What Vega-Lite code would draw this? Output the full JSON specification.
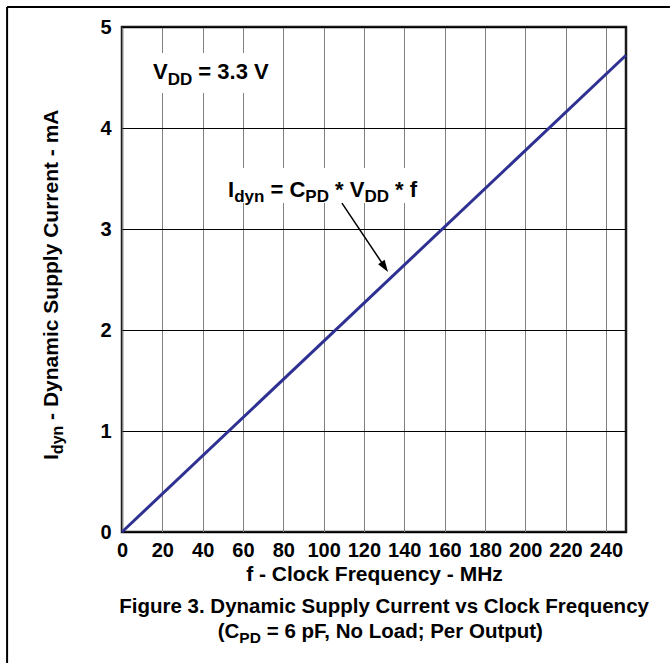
{
  "$schema": "https://vega.github.io/schema/vega-lite/v6.json",
  "width": 504,
  "height": 505,
  "autosize": {"type": "none"},
  "padding": {"left": 122, "top": 27, "right": 44, "bottom": 131},
  "background": "white",
  "config": {
    "font": "Liberation Sans",
    "view": {"stroke": "#1a1a1a", "strokeWidth": 2.5},
    "text": {"font": "Liberation Sans", "fontWeight": "bold", "color": "black", "align": "left", "baseline": "alphabetic"},
    "axisX": {
      "grid": true, "gridColor": "#808080", "gridWidth": 1,
      "ticks": false, "domain": false,
      "labelFontSize": 20, "labelFontWeight": "bold", "labelColor": "black",
      "labelPadding": 8, "labelFlush": false, "labelOverlap": false,
      "titleFontSize": 21, "titleFontWeight": "bold", "titleColor": "black",
      "titleY": 48, "titleBaseline": "alphabetic"
    },
    "axisY": {
      "grid": true, "gridColor": "#000000", "gridWidth": 1,
      "ticks": false, "domain": false,
      "labelFontSize": 20, "labelFontWeight": "bold", "labelColor": "black",
      "labelPadding": 11, "labelFlush": false, "labelOverlap": false
    }
  },
  "layer": [
    {
      "data": {"values": [{"f": 0, "I": 0}, {"f": 250, "I": 4.72}]},
      "mark": {"type": "line", "color": "#2e3192", "strokeWidth": 3},
      "encoding": {
        "x": {"field": "f", "type": "quantitative", "scale": {"domain": [0, 250], "nice": false, "zero": false},
              "axis": {"title": "f - Clock Frequency - MHz", "format": "d", "values": [0, 20, 40, 60, 80, 100, 120, 140, 160, 180, 200, 220, 240]}},
        "y": {"field": "I", "type": "quantitative", "scale": {"domain": [0, 5], "nice": false, "zero": false},
              "axis": {"title": null, "format": "d", "values": [0, 1, 2, 3, 4, 5]}}
      }
    },
    {
      "data": {"values": [{}]},
      "mark": {"type": "rule", "color": "black", "strokeWidth": 2},
      "encoding": {
        "x": {"datum": -57.0, "type": "quantitative"},
        "y": {"datum": 5.198, "type": "quantitative"},
        "y2": {"datum": -1.297}
      }
    },
    {
      "data": {"values": [{}]},
      "mark": {"type": "rule", "color": "black", "strokeWidth": 2},
      "encoding": {
        "x": {"datum": -57.0, "type": "quantitative"},
        "x2": {"datum": 271.8},
        "y": {"datum": 5.198, "type": "quantitative"}
      }
    },
    {
      "data": {"values": [{}]},
      "mark": {"type": "rect", "color": "white"},
      "encoding": {
        "x": {"datum": 13.9, "type": "quantitative"},
        "x2": {"datum": 75.9},
        "y": {"datum": 4.743, "type": "quantitative"},
        "y2": {"datum": 4.347}
      }
    },
    {
      "data": {"values": [{}]},
      "mark": {"type": "rect", "color": "white"},
      "encoding": {
        "x": {"datum": 48.6, "type": "quantitative"},
        "x2": {"datum": 150.3},
        "y": {"datum": 3.604, "type": "quantitative"},
        "y2": {"datum": 3.257}
      }
    },
    {
      "data": {"values": [{}]},
      "mark": {"type": "rule", "color": "black", "strokeWidth": 1.5},
      "encoding": {
        "x": {"datum": 109.1, "type": "quantitative"},
        "x2": {"datum": 130.3},
        "y": {"datum": 3.257, "type": "quantitative"},
        "y2": {"datum": 2.624}
      }
    },
    {
      "data": {"values": [{}]},
      "mark": {"type": "point", "shape": "M0,-1L0.65,1L-0.65,1Z", "size": 144, "filled": true, "color": "black", "opacity": 1, "angle": 146.3},
      "encoding": {
        "x": {"datum": 130.3, "type": "quantitative"},
        "y": {"datum": 2.624, "type": "quantitative"}
      }
    },
    {"data": {"values": [{}]}, "mark": {"type": "text", "text": "V", "fontSize": 22},
     "encoding": {"x": {"datum": 15.4, "type": "quantitative"}, "y": {"datum": 4.485, "type": "quantitative"}}},
    {"data": {"values": [{}]}, "mark": {"type": "text", "text": "DD", "fontSize": 17, "dx": 14.67, "dy": 6},
     "encoding": {"x": {"datum": 15.4, "type": "quantitative"}, "y": {"datum": 4.485, "type": "quantitative"}}},
    {"data": {"values": [{}]}, "mark": {"type": "text", "text": "= 3.3 V", "fontSize": 22, "dx": 45.3},
     "encoding": {"x": {"datum": 15.4, "type": "quantitative"}, "y": {"datum": 4.485, "type": "quantitative"}}},

    {"data": {"values": [{}]}, "mark": {"type": "text", "text": "I", "fontSize": 22},
     "encoding": {"x": {"datum": 52.6, "type": "quantitative"}, "y": {"datum": 3.317, "type": "quantitative"}}},
    {"data": {"values": [{}]}, "mark": {"type": "text", "text": "dyn", "fontSize": 17, "dx": 6.12, "dy": 5},
     "encoding": {"x": {"datum": 52.6, "type": "quantitative"}, "y": {"datum": 3.317, "type": "quantitative"}}},
    {"data": {"values": [{}]}, "mark": {"type": "text", "text": "= C", "fontSize": 22, "dx": 42.47},
     "encoding": {"x": {"datum": 52.6, "type": "quantitative"}, "y": {"datum": 3.317, "type": "quantitative"}}},
    {"data": {"values": [{}]}, "mark": {"type": "text", "text": "PD", "fontSize": 17, "dx": 77.31, "dy": 5},
     "encoding": {"x": {"datum": 52.6, "type": "quantitative"}, "y": {"datum": 3.317, "type": "quantitative"}}},
    {"data": {"values": [{}]}, "mark": {"type": "text", "text": "* V", "fontSize": 22, "dx": 107.04},
     "encoding": {"x": {"datum": 52.6, "type": "quantitative"}, "y": {"datum": 3.317, "type": "quantitative"}}},
    {"data": {"values": [{}]}, "mark": {"type": "text", "text": "DD", "fontSize": 17, "dx": 136.38, "dy": 5},
     "encoding": {"x": {"datum": 52.6, "type": "quantitative"}, "y": {"datum": 3.317, "type": "quantitative"}}},
    {"data": {"values": [{}]}, "mark": {"type": "text", "text": "* f", "fontSize": 22, "dx": 167.05},
     "encoding": {"x": {"datum": 52.6, "type": "quantitative"}, "y": {"datum": 3.317, "type": "quantitative"}}},

    {"data": {"values": [{}]}, "mark": {"type": "text", "text": "I", "fontSize": 21, "angle": 270},
     "encoding": {"x": {"datum": -31.7, "type": "quantitative"}, "y": {"datum": 0.713, "type": "quantitative"}}},
    {"data": {"values": [{}]}, "mark": {"type": "text", "text": "dyn", "fontSize": 16, "angle": 270, "dx": 5.84, "dy": 5},
     "encoding": {"x": {"datum": -31.7, "type": "quantitative"}, "y": {"datum": 0.713, "type": "quantitative"}}},
    {"data": {"values": [{}]}, "mark": {"type": "text", "text": "- Dynamic Supply Current - mA", "fontSize": 21, "angle": 270, "dx": 40.1},
     "encoding": {"x": {"datum": -31.7, "type": "quantitative"}, "y": {"datum": 0.713, "type": "quantitative"}}},

    {"data": {"values": [{}]}, "mark": {"type": "text", "text": "Figure 3. Dynamic Supply Current vs Clock Frequency", "fontSize": 20.5, "align": "center"},
     "encoding": {"x": {"datum": 130.0, "type": "quantitative"}, "y": {"datum": -0.802, "type": "quantitative"}}},
    {"data": {"values": [{}]}, "mark": {"type": "text", "text": "(C", "fontSize": 20.5},
     "encoding": {"x": {"datum": 47.5, "type": "quantitative"}, "y": {"datum": -1.05, "type": "quantitative"}}},
    {"data": {"values": [{}]}, "mark": {"type": "text", "text": "PD", "fontSize": 15.5, "dx": 21.6, "dy": 5},
     "encoding": {"x": {"datum": 47.5, "type": "quantitative"}, "y": {"datum": -1.05, "type": "quantitative"}}},
    {"data": {"values": [{}]}, "mark": {"type": "text", "text": "= 6 pF, No Load; Per Output)", "fontSize": 20.5, "dx": 49.0},
     "encoding": {"x": {"datum": 47.5, "type": "quantitative"}, "y": {"datum": -1.05, "type": "quantitative"}}}
  ]
}
